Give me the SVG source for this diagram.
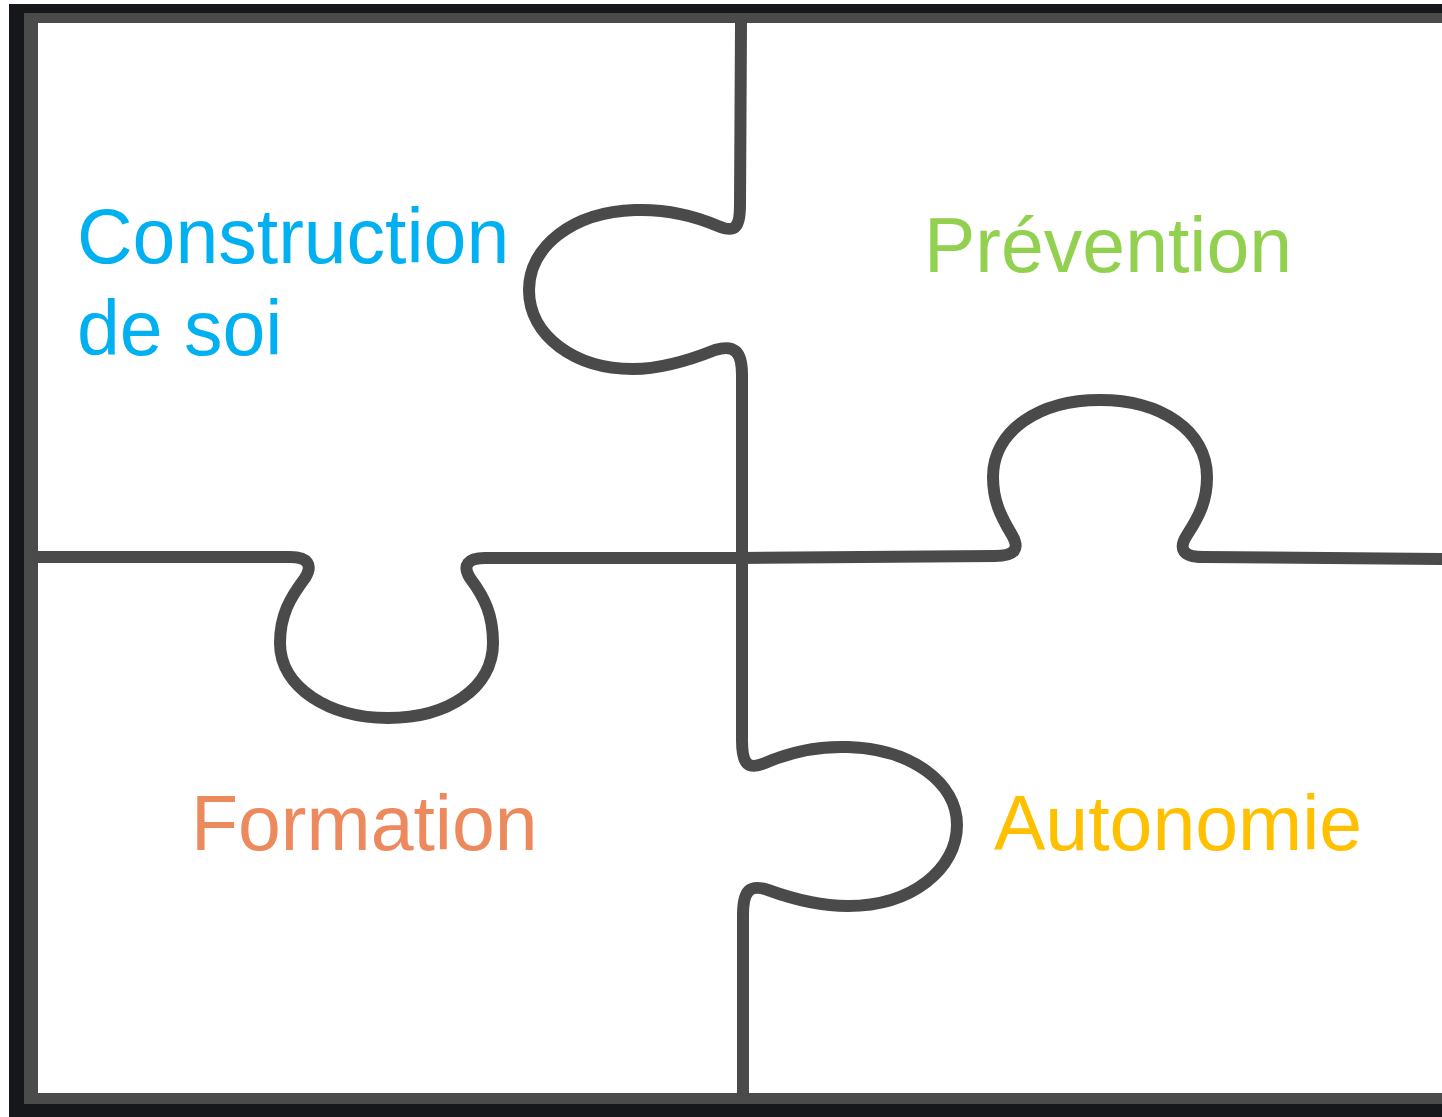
<svg xmlns="http://www.w3.org/2000/svg" width="1442" height="1117" viewBox="0 0 1442 1117">
<style>
.cut{fill:none;stroke:#4a4a4a;stroke-width:12;stroke-linecap:round;stroke-linejoin:round}
.lbl{font-family:"Liberation Sans",Arial,sans-serif;font-size:77px}
</style>
<rect x="0" y="0" width="1442" height="1117" fill="#ffffff"/>
<g id="frame">
<rect x="9" y="4" width="1440" height="1120" fill="#15171b"/>
<rect x="24" y="13" width="1430" height="1091" fill="#4b4b4b"/>
<rect x="38" y="23" width="1410" height="1070" fill="#ffffff"/>
</g>
<g id="connectors">
<path class="cut" d="M741,23 L740,205 C740,228 735,233 718,226 C695,216 665,209 635,210 C572,212 529,247 529,290 C529,336 575,369 633,369 C665,369 695,358 715,350 C735,344 742,352 742,375 L742,740 C742,765 748,770 765,763 C790,752 820,746 848,747 C912,749 957,783 957,825 C957,869 912,906 848,906 C818,906 790,898 768,890 C750,884 743,890 743,915 L743,1093"/>
<path class="cut" d="M38,557 L290,557 C308,557 313,565 305,578 C290,598 280,615 280,643 C280,688 330,718 388,718 C448,718 493,688 493,643 C493,615 485,598 470,578 C462,565 468,558 485,558 L740,558 L995,556 C1015,556 1020,549 1012,535 C1000,515 993,500 993,477 C993,430 1040,400 1100,400 C1160,400 1207,430 1207,477 C1207,500 1200,515 1187,535 C1178,549 1183,557 1203,557 L1442,559"/>
</g>
<g id="construction"><text class="lbl" x="77" y="263" fill="#00b0f0">Construction</text><text class="lbl" x="77" y="355" fill="#00b0f0">de soi</text></g>
<g id="prevention"><text class="lbl" x="924" y="272" fill="#92d050">Prévention</text></g>
<g id="formation"><text class="lbl" x="191" y="850" fill="#ec8a5e">Formation</text></g>
<g id="autonomie"><text class="lbl" x="994" y="850" fill="#ffc000">Autonomie</text></g>
</svg>
